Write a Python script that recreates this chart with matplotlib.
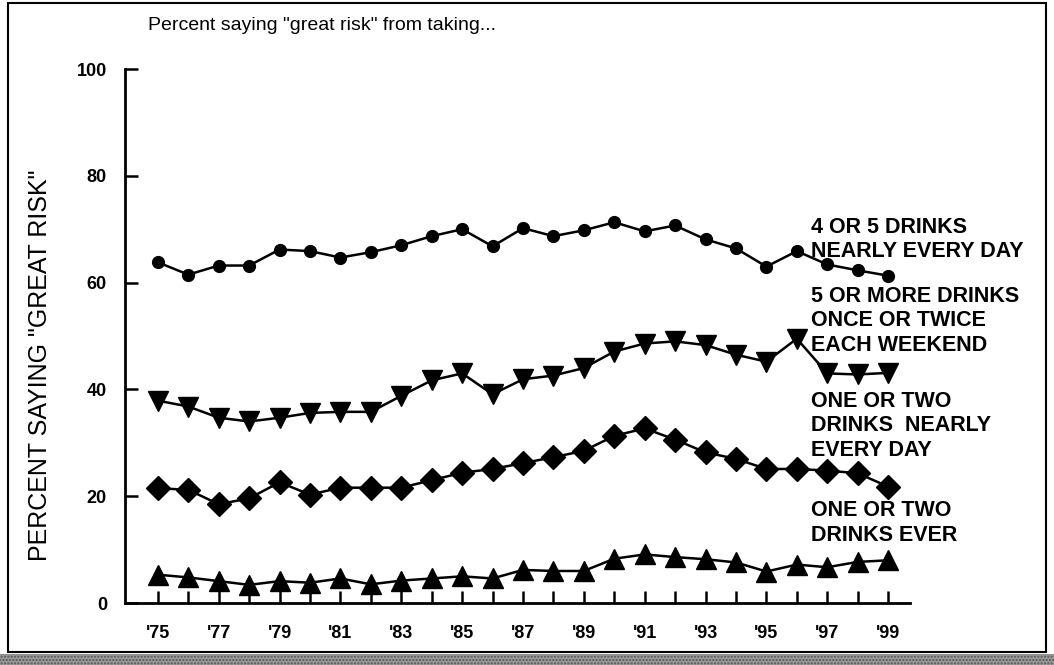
import matplotlib
matplotlib.use("Agg")
import matplotlib.pyplot as plt
from matplotlib.patches import Rectangle

# Data (percent saying "great risk")
years = list(range(1975, 2000))
four_five_daily = [63.8, 61.5, 63.2, 63.2, 66.2, 65.9, 64.7, 65.7, 67.0, 68.7,
                   70.0, 66.8, 70.2, 68.7, 69.8, 71.3, 69.6, 70.7, 68.1, 66.4,
                   63.0, 65.9, 63.4, 62.3, 61.3]
binge_weekend = [37.9, 36.8, 34.7, 34.0, 34.7, 35.6, 35.8, 35.8, 38.8, 41.7,
                 43.0, 39.1, 41.9, 42.6, 44.0, 47.1, 48.6, 49.0, 48.3, 46.5,
                 45.2, 49.5, 43.0, 42.8, 43.1]
light_daily = [21.5, 21.2, 18.5, 19.6, 22.6, 20.3, 21.6, 21.6, 21.6, 23.0,
               24.4, 25.1, 26.2, 27.3, 28.5, 31.3, 32.7, 30.6, 28.2, 27.0,
               25.1, 25.1, 24.8, 24.3, 21.8]
drinks_ever = [5.3, 4.8, 4.1, 3.4, 4.1, 3.8, 4.6, 3.5, 4.2, 4.6,
               5.0, 4.6, 6.2, 6.0, 6.0, 8.3, 9.1, 8.6, 8.2, 7.6,
               5.9, 7.2, 6.7, 7.7, 8.0]

series_labels = ["4 OR 5 DRINKS\nNEARLY EVERY DAY",
                 "5 OR MORE DRINKS\nONCE OR TWICE\nEACH WEEKEND",
                 "ONE OR TWO\nDRINKS  NEARLY\nEVERY DAY",
                 "ONE OR TWO\nDRINKS EVER"]
label_y = [68.1, 52.9, 33.2, 15.0]
yticks = [0, 20, 40, 60, 80, 100]
xtick_labels = ["'%02d" % (y % 100) if y % 2 == 1 else "" for y in years]

plt.rcParams['font.family'] = ['Liberation Sans', 'DejaVu Sans']

fig = plt.figure(figsize=(10.54, 6.65), dpi=100)
ax = fig.add_axes([0.1186, 0.0932, 0.7448, 0.803])

lw = 1.8
ax.plot(years, four_five_daily, color="black", lw=lw, marker="o", ms=8.5)
ax.plot(years, binge_weekend, color="black", lw=lw, marker="v", ms=14.5)
ax.plot(years, light_daily, color="black", lw=lw, marker="D", ms=12)
ax.plot(years, drinks_ever, color="black", lw=lw, marker="^", ms=14.5)

ax.set_xlim(1973.92, 1999.72)
ax.set_ylim(0, 100)
for side in ["top", "right"]:
    ax.spines[side].set_visible(False)
for side in ["left", "bottom"]:
    ax.spines[side].set_linewidth(2)

ax.set_yticks(yticks)
ax.set_xticks(years)
ax.set_xticklabels(xtick_labels)
ax.tick_params(axis="both", direction="in", length=9, width=1.8,
               labelsize=13)
ax.tick_params(axis="y", pad=13)
ax.tick_params(axis="x", pad=16)
for t in ax.get_xticklabels() + ax.get_yticklabels():
    t.set_fontweight("bold")

ax.set_ylabel('PERCENT SAYING "GREAT RISK"', fontsize=18)
ax.yaxis.set_label_coords(-0.093, 0.446)

for txt, yy in zip(series_labels, label_y):
    ax.text(1996.47, yy, txt, fontsize=15.5, fontweight="bold", va="center",
            ha="left", linespacing=1.22, clip_on=False)

fig.text(148 / 1054, 1 - 25 / 665, 'Percent saying "great risk" from taking...',
         fontsize=14, va="center", ha="left")

# frame round the figure and the stippled strip at the bottom
fig.patches.append(Rectangle((8 / 1054, 13 / 665), 1038 / 1054, 649 / 665,
                             transform=fig.transFigure, fill=False,
                             lw=1.5, ec="black"))
fig.patches.append(Rectangle((0, 0), 1, 11 / 665, transform=fig.transFigure,
                             fc="#999999", ec="#555555", lw=0, hatch="....."))

fig.savefig("out.png", dpi=100)
